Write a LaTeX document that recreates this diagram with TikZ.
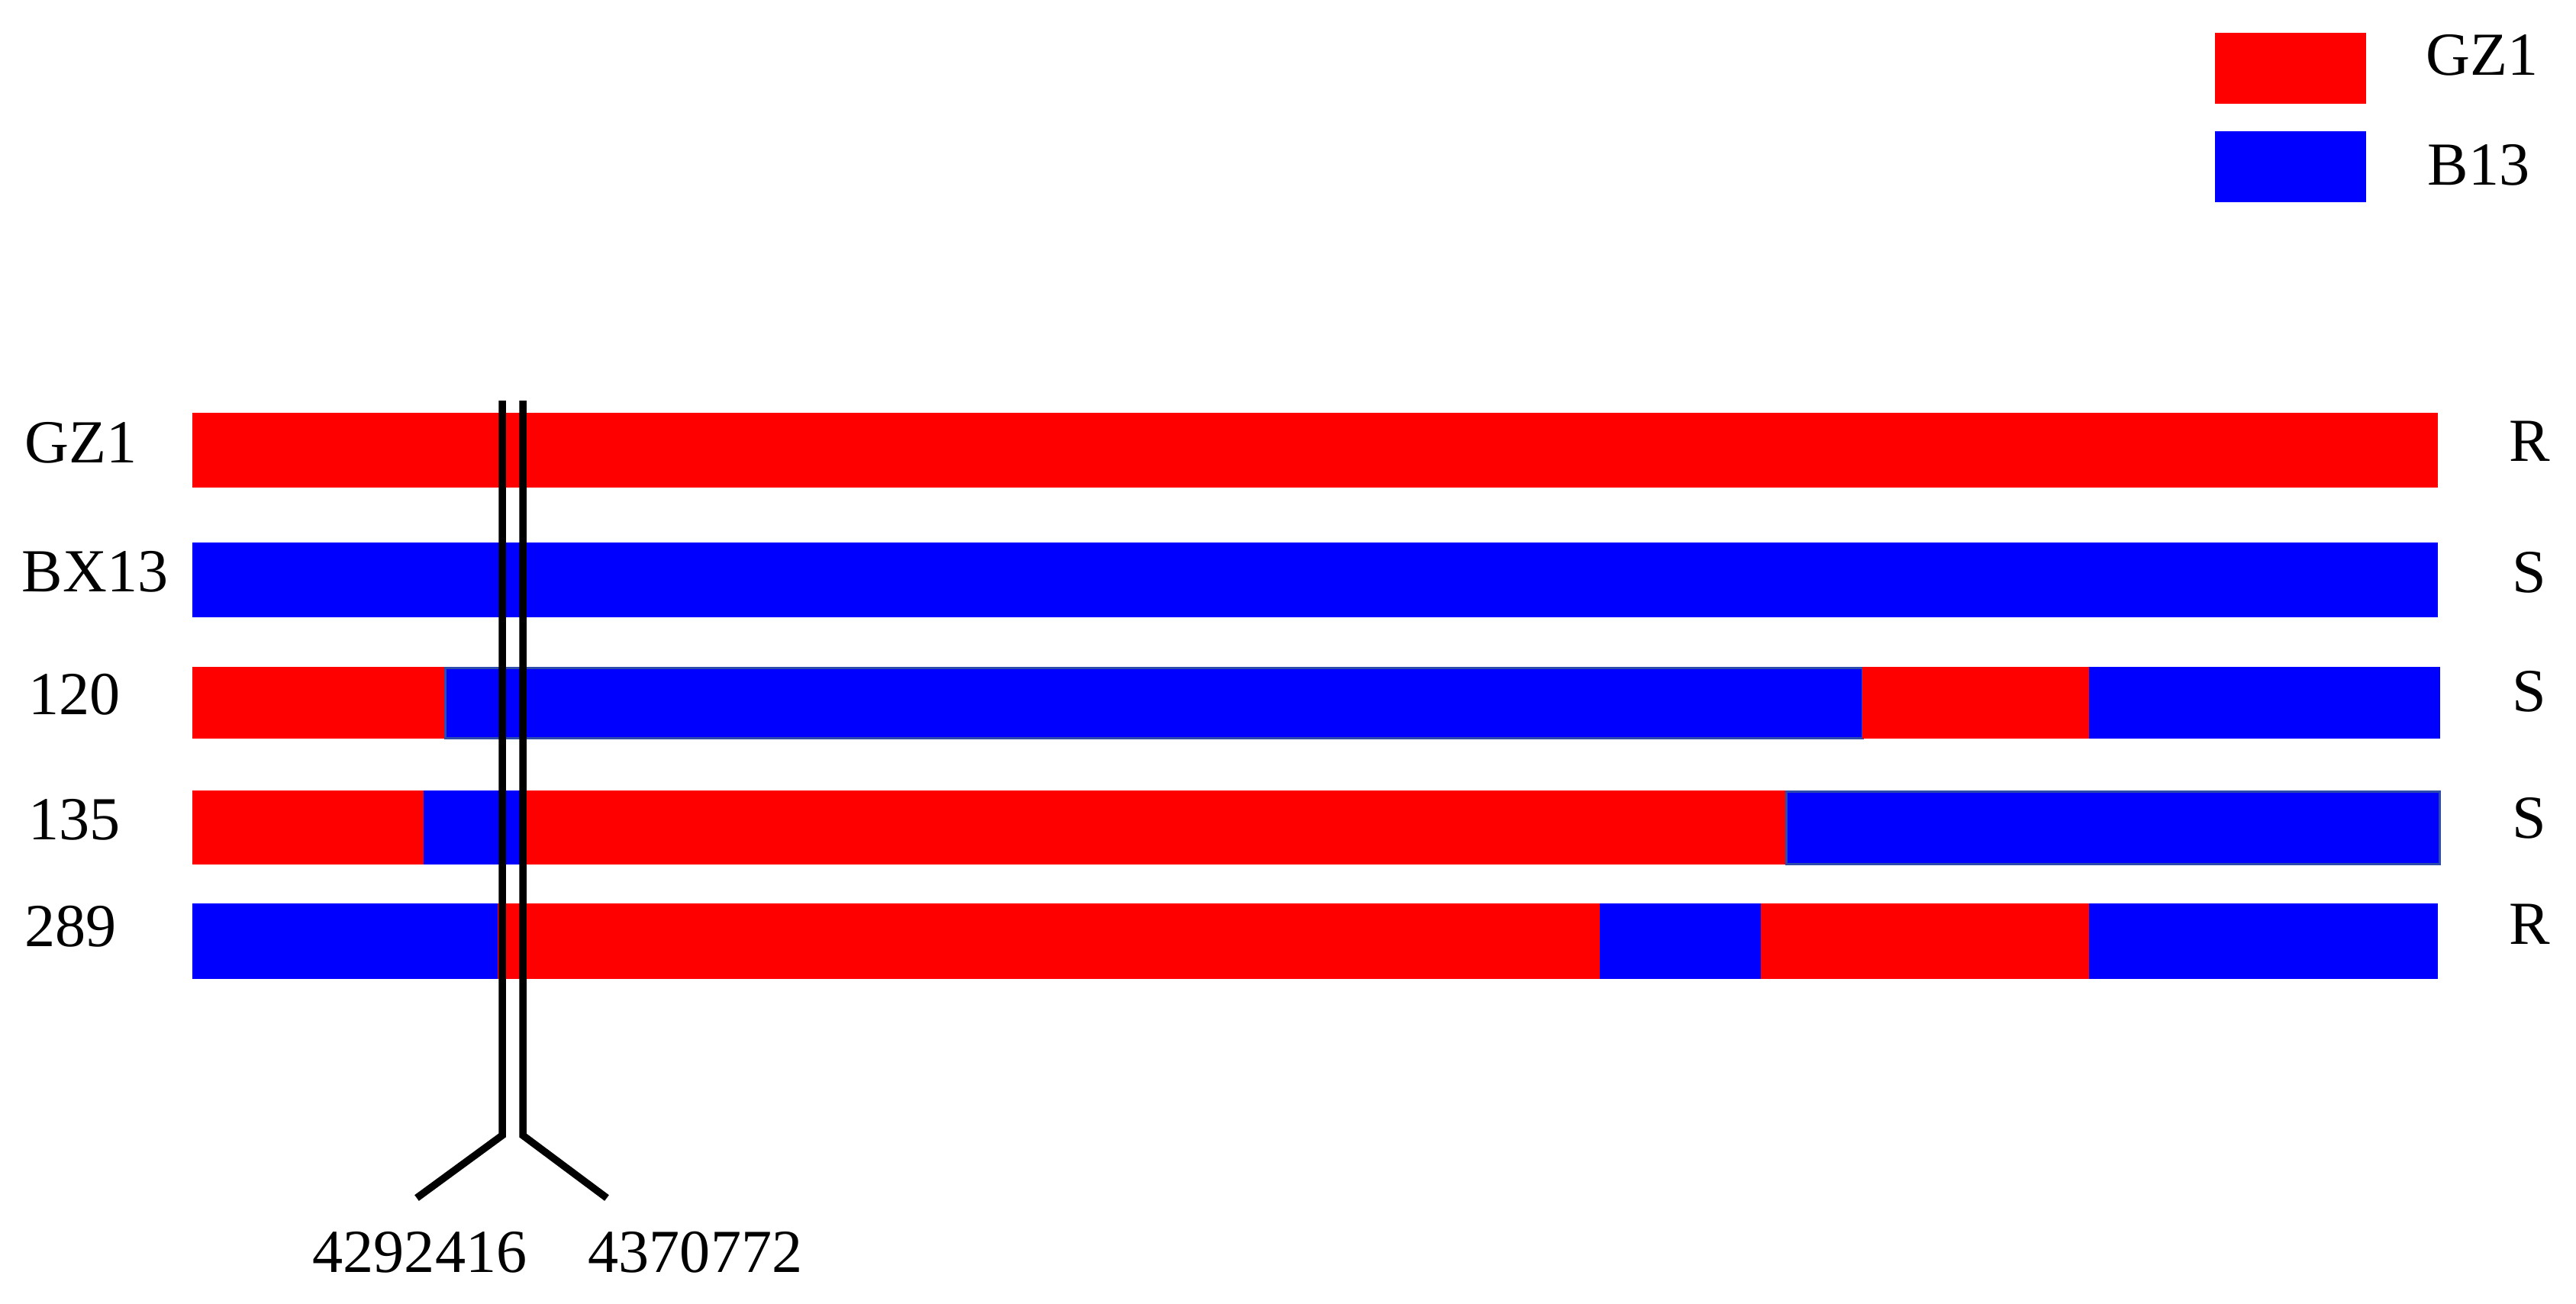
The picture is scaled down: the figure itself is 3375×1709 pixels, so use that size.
\documentclass[tikz,border=0pt]{standalone}
\usepackage{fontspec}
\setmainfont{Liberation Serif}
\definecolor{gred}{RGB}{255,0,0}
\definecolor{bblue}{RGB}{0,0,255}
\definecolor{edgeblue}{RGB}{45,75,170}
\begin{document}
\begin{tikzpicture}[x=0.01cm,y=-0.01cm,
  redseg/.style={fill=gred,draw=none},
  blueseg/.style={fill=bblue,draw=none},
  edged/.style={draw=edgeblue,line width=0.03cm},
  lbl/.style={font=\fontsize{22.8}{27}\selectfont,inner sep=0pt,anchor=base west},
  rlbl/.style={font=\fontsize{22.8}{27}\selectfont,inner sep=0pt,anchor=base},
  marker/.style={line width=0.095cm,draw=black}]
\useasboundingbox (0,0) rectangle (3375,1709);

% legend
\fill[redseg]  (2902,43)  rectangle (3100,136);
\fill[blueseg] (2902,172) rectangle (3100,265);
\node[lbl] (legGZ) at (3178,98)  {GZ1};
\node[lbl] (legB)  at (3180,242) {B13};

% row GZ1
\fill[redseg] (252,541) rectangle (3194,639);
% row BX13
\fill[blueseg] (252,711) rectangle (3194,809);
% row 120
\fill[redseg]  (252,874)  rectangle (583,968);
\filldraw[blueseg,edged] (583,875) rectangle (2440,967);
\fill[redseg]  (2440,874) rectangle (2737,968);
\fill[blueseg] (2737,874) rectangle (3197,968);
% row 135
\fill[redseg]  (252,1036) rectangle (555,1133);
\fill[blueseg] (555,1036) rectangle (686,1133);
\fill[redseg]  (686,1036) rectangle (2340,1133);
\filldraw[blueseg,edged] (2340,1037) rectangle (3196,1132);
% row 289
\fill[blueseg] (252,1184)  rectangle (652,1283);
\fill[redseg]  (652,1184)  rectangle (2096,1283);
\fill[blueseg] (2096,1184) rectangle (2307,1283);
\fill[redseg]  (2307,1184) rectangle (2737,1283);
\fill[blueseg] (2737,1184) rectangle (3194,1283);

% left labels
\node[lbl] (lGZ)   at (32,606)  {GZ1};
\node[lbl] (lBX)   at (28,775)  {BX13};
\node[lbl] (l120)  at (37,936)  {120};
\node[lbl] (l135)  at (37,1100) {135};
\node[lbl] (l289)  at (32,1240) {289};

% right labels
\node[rlbl] (rGZ)  at (3314,604)  {R};
\node[rlbl] (rBX)  at (3314,776)  {S};
\node[rlbl] (r120) at (3314,932)  {S};
\node[rlbl] (r135) at (3314,1098) {S};
\node[rlbl] (r289) at (3314,1237) {R};

% markers
\coordinate (t1) at (658,525);
\coordinate (c1) at (658,1488);
\coordinate (e1) at (546,1570);
\coordinate (t2) at (685,525);
\coordinate (c2) at (685,1488);
\coordinate (e2) at (795,1570);
\draw[marker] (t1) -- (c1) -- (e1);
\draw[marker] (t2) -- (c2) -- (e2);
\node[lbl] (n1) at (409,1667) {4292416};
\node[lbl] (n2) at (770,1667) {4370772};
\end{tikzpicture}
\end{document}
